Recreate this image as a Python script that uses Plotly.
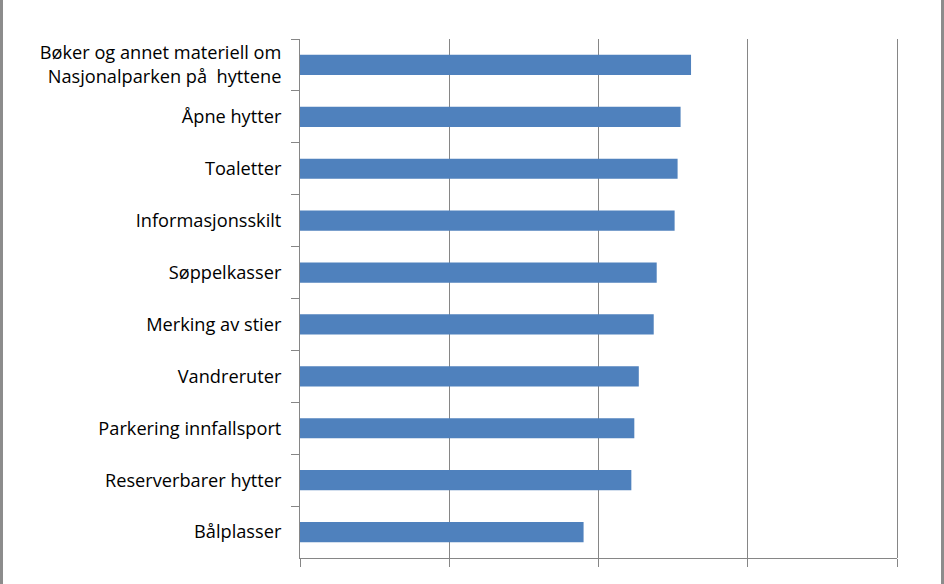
import plotly.graph_objects as go

categories = [
    "Bøker og annet materiell om<br>Nasjonalparken på  hyttene",
    "Åpne hytter",
    "Toaletter",
    "Informasjonsskilt",
    "Søppelkasser",
    "Merking av stier",
    "Vandreruter",
    "Parkering innfallsport",
    "Reserverbarer hytter",
    "Bålplasser",
]
values = [2.62, 2.55, 2.53, 2.51, 2.39, 2.37, 2.27, 2.24, 2.22, 1.90]
x_max = 4

W, H = 944, 584
L, R, T, B = 300, 897, 39, 558
grid = "#868686"

fig = go.Figure(go.Bar(
    x=values, y=categories, orientation="h",
    marker=dict(color="#4F81BD", line=dict(width=0)),
    hoverinfo="x+y",
))

fig.update_layout(
    width=W, height=H,
    margin=dict(l=L, r=W - R, t=T, b=H - B, autoexpand=False),
    paper_bgcolor="white", plot_bgcolor="white",
    bargap=0.61,
    showlegend=False,
    font=dict(family="Open Sans, Noto Sans, sans-serif", size=18.2, color="#000000"),
    xaxis=dict(
        range=[0, x_max], dtick=1, tick0=0,
        showgrid=True, gridcolor=grid, gridwidth=1,
        showline=True, linecolor=grid, linewidth=1,
        ticks="outside", ticklen=8, tickcolor=grid,
        showticklabels=False, zeroline=False, fixedrange=True,
    ),
    yaxis=dict(
        type="category", autorange="reversed",
        tickson="boundaries",
        showgrid=False,
        showline=True, linecolor=grid, linewidth=1,
        ticks="outside", ticklen=8, tickcolor=grid,
        ticklabelstandoff=14,
        zeroline=False, fixedrange=True,
    ),
)

# last vertical gridline at the right edge of the plot area (pixel-crisp, unclipped)
fig.add_shape(type="line", xref="paper", yref="paper",
              xsizemode="pixel", xanchor=1, x0=0.5, x1=0.5,
              y0=0, y1=1,
              line=dict(color=grid, width=1))

# outer chart frame (left and right edges visible in the reference)
def px_to_paper_x(px):
    return (px - L) / (R - L)

for xp in (1.5, 942.5):
    fig.add_shape(type="line", xref="paper", yref="paper",
                  x0=px_to_paper_x(xp), x1=px_to_paper_x(xp),
                  y0=1.2, y1=-0.2,
                  line=dict(color="#8C8C8C", width=3))

fig.write_html("out.html")
